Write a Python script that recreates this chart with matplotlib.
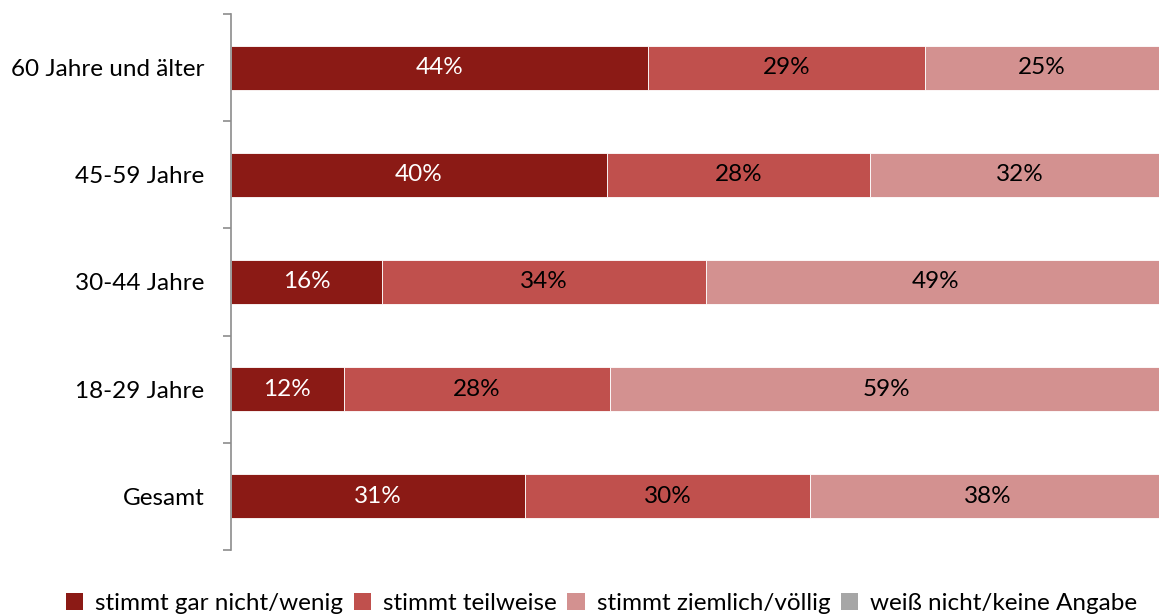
import matplotlib.pyplot as plt
from matplotlib.patches import Patch
import numpy as np

plt.rcParams['font.family'] = ['Lato', 'DejaVu Sans']

# categories from bottom to top
groups = ['Gesamt', '18-29 Jahre', '30-44 Jahre', '45-59 Jahre', '60 Jahre und älter']
series = ['stimmt gar nicht/wenig', 'stimmt teilweise', 'stimmt ziemlich/völlig', 'weiß nicht/keine Angabe']
gar_nicht = [31.3, 12.0, 16.1, 40.0, 44.4]
teilweise = [30.3, 28.3, 34.4, 28.0, 29.4]
ziemlich = [37.9, 58.9, 48.8, 31.8, 24.9]
weiss_nicht = [0.5, 0.8, 0.7, 0.2, 1.3]
colours = ['#8B1A15', '#C0504D', '#D39190', '#A6A6A6']
text_colours = ['white', 'black', 'black', None]

FS = 17.5

fig = plt.figure(figsize=(11.59, 6.14), dpi=100)
ax = fig.add_axes([231/1159, 64/614, 940/1159, 536/614])

y = np.arange(len(groups))
left = np.zeros(len(groups))
for vals, col, tcol in zip([gar_nicht, teilweise, ziemlich, weiss_nicht], colours, text_colours):
    vals = np.array(vals)
    ax.barh(y, vals, left=left, height=0.41, color=col, edgecolor='white', linewidth=0.6)
    if tcol is not None:
        for yi, l, v in zip(y, left, vals):
            ax.text(l + v/2, yi, f'{round(v):d}%', ha='center', va='center', color=tcol, fontsize=FS)
    left += vals

ax.set_xlim(0, 100)
ax.set_ylim(-0.5, len(groups) - 0.5)
ax.set_yticks(np.arange(-0.5, len(groups)), labels=[])
ax.set_yticks(y, labels=groups, minor=True)
ax.tick_params(axis='y', which='major', length=6, direction='out', color='#8C8C8C', width=1.2)
ax.tick_params(axis='y', which='minor', length=0, pad=19, labelsize=FS)
ax.xaxis.set_visible(False)
for s in ['top', 'right', 'bottom']:
    ax.spines[s].set_visible(False)
ax.spines['left'].set_color('#8C8C8C')
ax.spines['left'].set_linewidth(1.2)

handles = [Patch(facecolor=c, edgecolor='none') for c in colours]
fig.legend(handles, series, loc='lower center', bbox_to_anchor=(0.519, -0.035), ncol=4, frameon=False,
           fontsize=FS, handlelength=0.7, handleheight=0.7, handletextpad=0.5, columnspacing=0.45)

fig.savefig('out.png', dpi=100)
